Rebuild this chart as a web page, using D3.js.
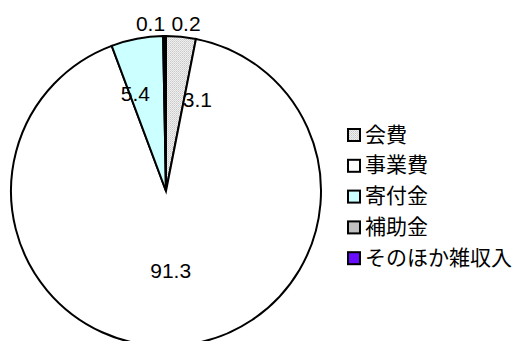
<!DOCTYPE html>
<html><head><meta charset="utf-8">
<script src="https://cdn.jsdelivr.net/npm/d3@7"></script>
<style>
html,body{margin:0;padding:0;background:#fff;}
svg{display:block;}
text{font-family:"Liberation Sans",Arial,"Noto Sans CJK JP",sans-serif;}
</style></head>
<body>
<svg id="chart" width="513" height="341"></svg>
<script>
const categories = ["会費", "事業費", "寄付金", "補助金", "そのほか雑収入"];
const values = [3.1, 91.3, 5.4, 0.2, 0.1];
const labels = ["3.1", "91.3", "5.4", "0.2", "0.1"];
const colors = ["url(#dots)", "#ffffff", "#ccffff", "#c0c0c0", "#6a0dff"];

const svg = d3.select("#chart");
const defs = svg.append("defs");
const pat = defs.append("pattern").attr("id", "dots").attr("patternUnits", "userSpaceOnUse")
  .attr("width", 2).attr("height", 2);
pat.append("rect").attr("width", 2).attr("height", 2).attr("fill", "#efefef");
pat.append("rect").attr("width", 1).attr("height", 1).attr("fill", "#c8c8c8");
pat.append("rect").attr("x", 1).attr("y", 1).attr("width", 1).attr("height", 1).attr("fill", "#d8d8d8");

const cx = 166, cy = 191, R = 155;
const pie = d3.pie().sort(null).value(d => d)(values);
const arc = d3.arc().innerRadius(0).outerRadius(R);

const g = svg.append("g").attr("transform", `translate(${cx},${cy})`);
g.selectAll("path").data(pie).join("path")
  .attr("d", arc)
  .attr("fill", (d, i) => colors[i])
  .attr("stroke", "#000")
  .attr("stroke-width", 2)
  .attr("stroke-linejoin", "miter");

// label placement (layout nudges kept in code, not in data)
const labelRadius = [0.62, 0.53, 0.64, 1.0, 1.0];
const nudge = [[22, 6], [-2, 0], [-12, 2], [22, -11], [-15, -11]];
g.selectAll("text.lbl").data(pie).join("text")
  .attr("class", "lbl")
  .attr("x", (d, i) => {
    const a = (d.startAngle + d.endAngle) / 2;
    return Math.sin(a) * R * labelRadius[i] + nudge[i][0];
  })
  .attr("y", (d, i) => {
    const a = (d.startAngle + d.endAngle) / 2;
    return -Math.cos(a) * R * labelRadius[i] + nudge[i][1];
  })
  .attr("text-anchor", "middle")
  .attr("dominant-baseline", "middle")
  .attr("font-size", 21)
  .attr("fill", "#000")
  .text((d, i) => labels[i]);

// legend
const lg = svg.append("g").attr("transform", "translate(347,135)");
const rowH = 30.8;
const items = lg.selectAll("g").data(categories).join("g")
  .attr("transform", (d, i) => `translate(0,${i * rowH})`);
items.append("rect")
  .attr("x", 1).attr("y", -6).attr("width", 12).attr("height", 12)
  .attr("fill", (d, i) => colors[i])
  .attr("stroke", "#000").attr("stroke-width", 2);
items.append("text")
  .attr("x", 18).attr("y", 1)
  .attr("dominant-baseline", "middle")
  .attr("font-size", 21)
  .attr("font-family", "'Noto Sans CJK JP',sans-serif")
  .attr("fill", "#000")
  .text(d => d);
</script>
</body></html>
